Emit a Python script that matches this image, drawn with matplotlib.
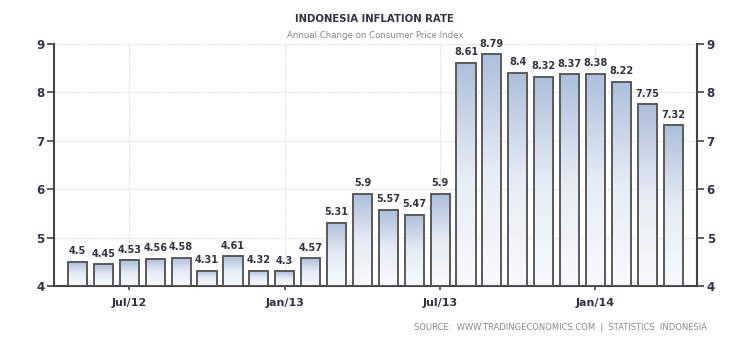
import numpy as np
import matplotlib
matplotlib.use("Agg")
import matplotlib.pyplot as plt
from matplotlib.colors import LinearSegmentedColormap

values = [4.5, 4.45, 4.53, 4.56, 4.58, 4.31, 4.61, 4.32, 4.3, 4.57, 5.31, 5.9,
          5.57, 5.47, 5.9, 8.61, 8.79, 8.4, 8.32, 8.37, 8.38, 8.22, 7.75, 7.32]
value_labels = ["4.5", "4.45", "4.53", "4.56", "4.58", "4.31", "4.61", "4.32", "4.3",
                "4.57", "5.31", "5.9", "5.57", "5.47", "5.9", "8.61", "8.79", "8.4",
                "8.32", "8.37", "8.38", "8.22", "7.75", "7.32"]
tick_positions = [2, 8, 14, 20]
tick_labels = ["Jul/12", "Jan/13", "Jul/13", "Jan/14"]
y_ticks = [4, 5, 6, 7, 8, 9]

W, H = 751, 345
fig = plt.figure(figsize=(W / 100, H / 100), dpi=100)
ax = fig.add_axes([54 / W, 1 - 286 / H, 643 / W, 242 / H])

x = np.arange(len(values))
ymin = 4
bars = ax.bar(x, np.array(values) - ymin, bottom=ymin, width=0.74,
              facecolor="none", edgecolor="#5a5a5a", linewidth=1.4, zorder=3)

cmap = LinearSegmentedColormap.from_list("g", ["#f8fafd", "#e6ecf5", "#adbfdb"])
grad = np.linspace(0, 1, 256).reshape(-1, 1)
for b in bars:
    x0, y0 = b.get_x(), b.get_y()
    w, h = b.get_width(), b.get_height()
    im = ax.imshow(grad, cmap=cmap, origin="lower", aspect="auto",
                   extent=[x0, x0 + w, y0, y0 + h], zorder=2)
    im.set_clip_path(b)

for xi, v, lab in zip(x, values, value_labels):
    ax.annotate(lab, (xi, v), xytext=(0, 4), textcoords="offset points",
                ha="center", va="bottom", fontsize=7, fontweight="bold",
                color="#333340")

ax.set_xlim(-0.91, 23.92)
ax.set_ylim(4, 9)
ax.set_yticks(y_ticks)
ax.set_xticks(tick_positions)
ax.set_xticklabels(tick_labels)

ax.grid(True, color="#e2e2e2", linewidth=0.8, linestyle=(0, (2, 1)), zorder=0)
ax.set_axisbelow(True)

for s in ["left", "right", "bottom"]:
    ax.spines[s].set_color("#444444")
    ax.spines[s].set_linewidth(1.5)
ax.spines["top"].set_visible(False)

ax.tick_params(axis="y", which="both", left=True, right=True, labelleft=True,
               labelright=True, length=5, width=1.2, color="#444444",
               labelsize=8.5, labelcolor="#333340", pad=2)
ax.tick_params(axis="x", length=3, width=1.2, color="#444444",
               labelsize=8, labelcolor="#333340", pad=6)
for lab in ax.get_yticklabels() + ax.get_xticklabels():
    lab.set_fontweight("bold")

fig.text(374 / W, 1 - 19 / H, "INDONESIA INFLATION RATE", ha="center", va="center",
         fontsize=7.3, fontweight="bold", color="#333340")
fig.text(375 / W, 1 - 36 / H, "Annual Change on Consumer Price Index", ha="center",
         va="center", fontsize=6.2, color="#888888")
fig.text(707 / W, 1 - 328 / H,
         "SOURCE:  WWW.TRADINGECONOMICS.COM  |  STATISTICS  INDONESIA",
         ha="right", va="center", fontsize=6.0, color="#8a8a8a")

fig.savefig("out.png", dpi=100, facecolor="white")
